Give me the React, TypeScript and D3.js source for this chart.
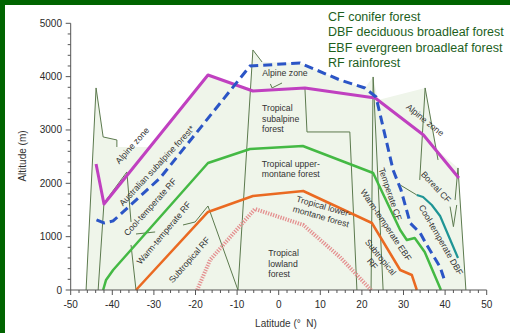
import React from 'react';
import * as d3 from 'd3';

const xTicks = [-50, -40, -30, -20, -10, 0, 10, 20, 30, 40, 50];
const yTicks = [0, 1000, 2000, 3000, 4000, 5000];
const legendLines = [
  'CF conifer forest',
  'DBF deciduous broadleaf forest',
  'EBF evergreen broadleaf forest',
  'RF rainforest',
];

// [latitude, altitude]
const subalpineLine = [[-43.9, 2363], [-42.0, 1613], [-17.0, 4031], [-6.2, 3731], [6.3, 3788], [14.7, 3694], [23.2, 3600], [34.8, 2906], [43.3, 2100]];
const alpineDashed = [[-43.8, 1313], [-42.0, 1256], [-39.8, 1294], [-28.5, 2100], [-6.9, 4200], [5.1, 4256], [14.7, 3938], [20.7, 3788], [23.4, 3619], [27.5, 2250], [29.4, 1875], [31.6, 1256], [34.0, 1069], [35.6, 844], [38.8, 431], [40.0, 150]];
const upperMontane = [[-42.2, 0], [-41.5, 188], [-39.8, 375], [-17.0, 2381], [-6.9, 2644], [5.8, 2700], [22.7, 2194], [29.2, 1125], [30.8, 938], [32.7, 975], [35.1, 713], [39.0, 0]];
const lowerMontane = [[-34.3, 0], [-17.0, 1463], [-6.2, 1763], [5.9, 1856], [22.4, 1256], [29.2, 375], [32.0, 281], [33.2, 0]];
const lowland = [[-19.6, 0], [-16.5, 563], [-5.7, 1519], [5.9, 1219], [14.7, 619], [22.2, 0]];
const coolDBF = [[33.2, 1781], [34.7, 1744], [36.8, 1594], [38.8, 1388], [43.1, 600]];

const vegEnvelope = [[-46.3, 0], [-43.9, 3788], [-42.2, 2869], [-38.9, 2813], [-38.9, 2681], [-30.9, 2681], [-17.0, 4031], [-6.8, 3776], [-6.2, 4500], [-4.0, 4275], [5.1, 4256], [14.7, 3938], [20.7, 3788], [22.7, 3994], [23.9, 3563], [35.2, 3788], [38.1, 2625], [43.1, 2288], [45.0, 0]];

const zoneBoundaries = [
  [[-46.3, 0], [-43.9, 3788], [-42.2, 2869], [-38.9, 2813], [-38.9, 2681]],
  [[-43.4, 0], [-42.0, 1631], [-36.5, 2213], [-35.5, 1275]],
  [[-35.5, 844], [-34.3, 0]],
  [[-34.3, 1050], [-29.7, 1088]],
  [[-23.0, 1219], [-20.1, 1275], [-17.0, 1575], [-9.8, 0], [-6.2, 4500], [-4.0, 4275]],
  [[-2.0, 3863], [-1.6, 3788], [0.8, 3881]],
  [[6.3, 3788], [6.8, 2963], [17.1, 2963], [18.8, 0]],
  [[22.2, 0], [22.7, 3994], [25.1, 0]],
  [[33.9, 2063], [35.2, 3788], [38.3, 2438]],
  [[29.2, 1969], [33.2, 1781]],
  [[41.2, 1563], [42.0, 1188], [42.8, 1594]],
  [[42.4, 1688], [43.1, 2288], [45.0, 0]],
];

const zoneLabels = [
  { lines: ['Alpine zone'], lat: -35.2, alt: 2709, angle: -48, anchor: 'middle' },
  { lines: ['Australian subalpine forest*'], lat: -29.3, alt: 2330, angle: -47, anchor: 'middle' },
  { lines: ['Cool-temperate RF'], lat: -30.9, alt: 1556, angle: -48, anchor: 'middle' },
  { lines: ['Warm-temperate RF'], lat: -27.6, alt: 1069, angle: -50, anchor: 'middle' },
  { lines: ['Subtropical RF'], lat: -21.5, alt: 563, angle: -49, anchor: 'middle' },
  { lines: ['Alpine zone'], lat: 1.5, alt: 4069, angle: 0, anchor: 'middle' },
  { lines: ['Tropical', 'subalpine', 'forest'], lat: -4.0, alt: 3206, angle: 0, anchor: 'start' },
  { lines: ['Tropical upper-', 'montane forest'], lat: 2.9, alt: 2269, angle: 0, anchor: 'middle' },
  { lines: ['Tropical lower-', 'montane forest'], lat: 10.5, alt: 1472, angle: 16, anchor: 'middle' },
  { lines: ['Tropical', 'lowland', 'forest'], lat: -2.5, alt: 488, angle: 0, anchor: 'start' },
  { lines: ['Temperate CF'], lat: 26.8, alt: 1800, angle: 71, anchor: 'middle' },
  { lines: ['Warm-temperate EBF'], lat: 25.8, alt: 1219, angle: 56, anchor: 'middle' },
  { lines: ['Subtropical', 'RF'], lat: 23.5, alt: 553, angle: 51, anchor: 'middle' },
  { lines: ['Boreal CF'], lat: 37.8, alt: 1931, angle: 47, anchor: 'middle' },
  { lines: ['Cool-temperate DBF'], lat: 39.0, alt: 938, angle: 60, anchor: 'middle' },
  { lines: ['Alpine zone'], lat: 35.2, alt: 3188, angle: 39, anchor: 'middle' },
];

const FONT = '"Liberation Sans", Arial, Helvetica, sans-serif';

export default function App() {
  const W = 510, H = 333;
  const x = d3.scaleLinear().domain([-50, 50]).range([70.7, 486.7]);
  const y = d3.scaleLinear().domain([0, 5000]).range([290, 23.3]);
  const line = d3.line<number[]>().x(d => x(d[0])).y(d => y(d[1]));
  const xMinor = d3.range(-50, 50.01, 2).filter(v => Math.abs(v % 10) > 0.01);
  const yMinor = d3.range(0, 5000.1, 200).filter(v => v % 1000 !== 0);
  const axisColor = '#555';
  const boundaryColor = '#5c7a4e';

  return (
    <div style={{ position: 'fixed', left: 0, top: 0 }}>
      <svg width={W} height={H} style={{ display: 'block', background: '#fff' }} fontFamily={FONT}>
        <rect x={0} y={0} width={W} height={H} fill="#fff" />
        <rect x={0} y={0} width={5} height={H} fill="#006400" />
        <rect x={0} y={0} width={W} height={5} fill="#006400" />

        <path d={line(vegEnvelope) + 'Z'} fill="#eff5ea" stroke="none" />
        {zoneBoundaries.map((b, i) => (
          <path key={'b' + i} d={line(b) || ''} fill="none" stroke={boundaryColor} strokeWidth={1} />
        ))}

        <path d={line(lowland) || ''} fill="none" stroke="#e49090" strokeWidth={4} strokeDasharray="1.3 1.3" />
        <path d={line(lowerMontane) || ''} fill="none" stroke="#ea6a22" strokeWidth={2.5} strokeLinejoin="round" />
        <path d={line(upperMontane) || ''} fill="none" stroke="#44b944" strokeWidth={2.5} strokeLinejoin="round" />
        <path d={line(coolDBF) || ''} fill="none" stroke="#1f9595" strokeWidth={2.2} strokeLinejoin="round" />
        <path d={line(subalpineLine) || ''} fill="none" stroke="#c040c0" strokeWidth={3} strokeLinejoin="round" />
        <path d={line(alpineDashed) || ''} fill="none" stroke="#2b55c6" strokeWidth={3} strokeDasharray="9 5" />

        {zoneLabels.map((l, i) => {
          const n = l.lines.length;
          const lh = 10.5;
          return (
            <g key={'l' + i} transform={`translate(${x(l.lat)},${y(l.alt)}) rotate(${l.angle})`}>
              {l.lines.map((t, j) => (
                <text key={j} x={0} y={(j - (n - 1) / 2) * lh} textAnchor={l.anchor} dominantBaseline="central" fontSize={8.7} fill="#333">{t}</text>
              ))}
            </g>
          );
        })}

        {/* axes */}
        <line x1={x(-50)} x2={x(-50)} y1={y(0)} y2={y(5000)} stroke={axisColor} strokeWidth={1} />
        <line x1={x(-50)} x2={x(50)} y1={y(0)} y2={y(0)} stroke={axisColor} strokeWidth={1} />
        {yTicks.map(v => (
          <g key={'yt' + v}>
            <line x1={x(-50) - 5} x2={x(-50)} y1={y(v)} y2={y(v)} stroke={axisColor} />
            <text x={62} y={y(v)} dominantBaseline="central" textAnchor="end" fontSize={10} fill="#2a2a2a">{v}</text>
          </g>
        ))}
        {yMinor.map(v => (
          <line key={'ym' + v} x1={x(-50) - 3} x2={x(-50)} y1={y(v)} y2={y(v)} stroke={axisColor} />
        ))}
        {xTicks.map(v => (
          <g key={'xt' + v}>
            <line x1={x(v)} x2={x(v)} y1={y(0)} y2={y(0) + 5} stroke={axisColor} />
            <text x={x(v)} y={304} dominantBaseline="central" textAnchor="middle" fontSize={10} fill="#2a2a2a">{v}</text>
          </g>
        ))}
        {xMinor.map(v => (
          <line key={'xm' + v} x1={x(v)} x2={x(v)} y1={y(0)} y2={y(0) + 3} stroke={axisColor} />
        ))}
        <text x={286} y={323} dominantBaseline="central" textAnchor="middle" fontSize={10} fill="#333">{'Latitude (°\u00a0\u00a0N)'}</text>
        <text transform={`translate(22,156) rotate(-90)`} dominantBaseline="central" textAnchor="middle" fontSize={10} fill="#333">Altitude (m)</text>

        {legendLines.map((t, i) => (
          <text key={'lg' + i} x={328} y={17 + i * 15.3} dominantBaseline="central" fontSize={12.5} fill="#1d5f1d">{t}</text>
        ))}
      </svg>
    </div>
  );
}
